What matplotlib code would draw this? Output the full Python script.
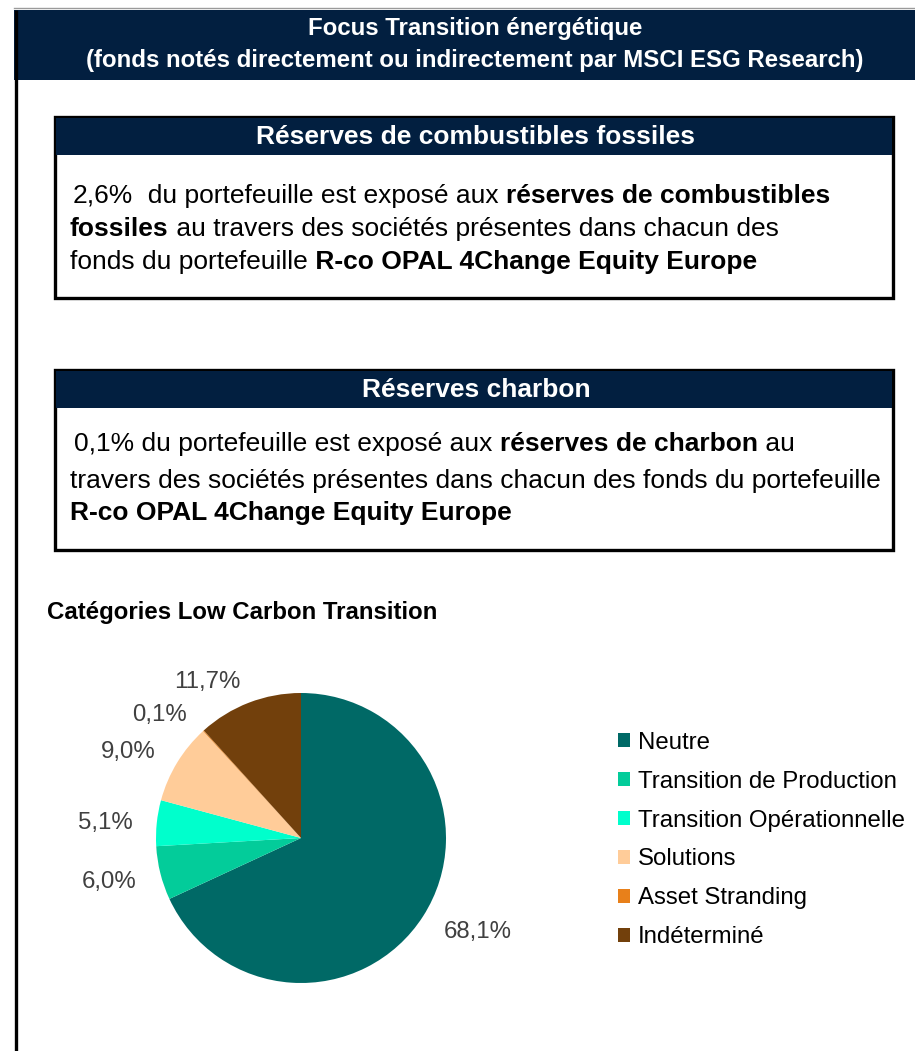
import matplotlib
matplotlib.use("Agg")
import matplotlib.pyplot as plt
from matplotlib.patches import Rectangle

plt.rcParams['font.family'] = ['Liberation Sans', 'DejaVu Sans']

# ---------------- data ----------------
title_line1 = "Focus Transition énergétique"
title_line2 = "(fonds notés directement ou indirectement par MSCI ESG Research)"
fund_name = "R-co OPAL 4Change Equity Europe"
fossil_header = "Réserves de combustibles fossiles"
coal_header = "Réserves charbon"
fossil_pct = 2.6
coal_pct = 0.1
pie_title = "Catégories Low Carbon Transition"
categories = ["Neutre", "Transition de Production", "Transition Opérationnelle",
              "Solutions", "Asset Stranding", "Indéterminé"]
values = [68.1, 6.0, 5.1, 9.0, 0.1, 11.7]
colors = ["#006966", "#03CC9A", "#00FFCC", "#FFCC99", "#E8801A", "#72400C"]

NAVY = "#021F40"
W, H = 915, 1051
BODY = 19


def fr(v):
    return f"{v:.1f}".replace(".", ",") + "%"


fig = plt.figure(figsize=(W / 100, H / 100), dpi=100)
ax = fig.add_axes([0, 0, 1, 1])
ax.set_xlim(0, W)
ax.set_ylim(H, 0)
ax.axis("off")

# outer frame
ax.plot([14, W], [8, 8], color="#9a9a9a", lw=1)
ax.add_patch(Rectangle((14, 10), W - 14, 70, facecolor=NAVY, edgecolor="none"))
ax.plot([16, 16], [10, H], color="black", lw=2.4, solid_capstyle="butt")
ax.text(475, 29, title_line1, color="white", fontsize=17.3, fontweight="bold",
        ha="center", va="center")
ax.text(475, 60, title_line2, color="white", fontsize=17.3, fontweight="bold",
        ha="center", va="center")


def box(top, bottom, header):
    ax.add_patch(Rectangle((55, top), 838, bottom - top, facecolor="white",
                           edgecolor="black", lw=2.4))
    ax.add_patch(Rectangle((56, top + 1), 836, 37, facecolor=NAVY, edgecolor="none"))
    ax.text(476, top + 20, header, color="white", fontsize=19, fontweight="bold",
            ha="center", va="center")


def rich_line(x, y, parts, size=BODY):
    prev = None
    for s, bold in parts:
        w = "bold" if bold else "normal"
        if prev is None:
            prev = ax.text(x, y, s, fontsize=size, fontweight=w, va="baseline",
                           ha="left", color="black")
        else:
            prev = ax.annotate(s, xy=(1, 0), xycoords=prev, va="bottom", ha="left",
                               fontsize=size, fontweight=w, color="black")


box(117, 298, fossil_header)
rich_line(73, 203, [(fr(fossil_pct), False), ("  du portefeuille est exposé aux ", False),
                    ("réserves de combustibles", True)])
rich_line(70, 236, [("fossiles", True), (" au travers des sociétés présentes dans chacun des", False)])
rich_line(70, 269, [("fonds du portefeuille", False), (" " + fund_name, True)])

box(370, 550, coal_header)
rich_line(74, 451, [(fr(coal_pct) + " du portefeuille est exposé aux ", False),
                    ("réserves de charbon", True), (" au", False)])
rich_line(70, 488, [("travers des sociétés présentes dans chacun des fonds du portefeuille", False)])
rich_line(70, 520, [(fund_name, True)])

ax.text(47, 613, pie_title, fontsize=17.3, fontweight="bold", ha="left", va="center")

# pie
cx, cy, r = 301, 838, 145
pax = fig.add_axes([(cx - r) / W, (H - cy - r) / H, 2 * r / W, 2 * r / H])
wedges, texts = pax.pie(values, colors=colors, startangle=90, counterclock=False,
                        labels=[fr(v) for v in values], labeldistance=1.17,
                        wedgeprops=dict(linewidth=0),
                        textprops=dict(color="#404040", fontsize=17.3))
for t in texts:
    t.set_verticalalignment("center_baseline")
pax.set_xlim(-1, 1)
pax.set_ylim(-1, 1)
pax.set_aspect("equal")

fig.legend(wedges, categories, loc="upper left", bbox_to_anchor=(618 / W, 1 - 732 / H),
           frameon=False, fontsize=17.3, handlelength=0.52, handleheight=0.52,
           handletextpad=0.3, labelspacing=0.70, borderpad=0, borderaxespad=0)

fig.savefig("out.png", dpi=100)
